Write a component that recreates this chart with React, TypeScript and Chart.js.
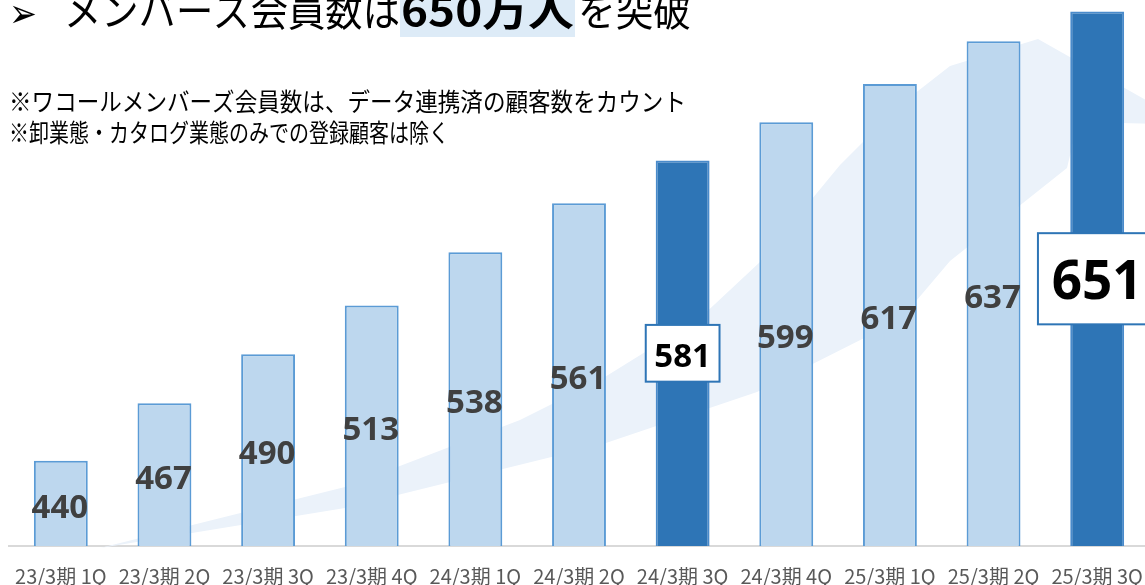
import React, { useEffect, useRef } from "react";
import { Chart, registerables } from "chart.js";

Chart.register(...registerables);

const categories = [
  "23/3期 1Q", "23/3期 2Q", "23/3期 3Q", "23/3期 4Q",
  "24/3期 1Q", "24/3期 2Q", "24/3期 3Q", "24/3期 4Q",
  "25/3期 1Q", "25/3期 2Q", "25/3期 3Q",
];
const members = [440, 467, 490, 513, 538, 561, 581, 599, 617, 637, 651];
const highlighted = [false, false, false, false, false, false, true, false, false, false, true];
const labelSizes = [33, 33, 33, 33, 33, 33, 33, 33, 33, 33, 53];

const titlePrefix = "➢";
const titleMain = "メンバーズ会員数は";
const titleBold = "650万人";
const titleEnd = "を突破";
const noteLines = [
  "※ワコールメンバーズ会員数は、データ連携済の顧客数をカウント",
  "※卸業態・カタログ業態のみでの登録顧客は除く",
];

// decorative swoosh outline (canvas px)
const swooshUpper: [number, number][] = [
  [100, 548], [345, 487], [520, 420], [600, 380], [700, 318], [760, 262], [840, 165], [900, 105], [950, 66], [1038, 39],
];
const swooshLower: [number, number][] = [
  [1160, 108], [1160, 124], [1078, 122], [1067, 168], [950, 261], [900, 320], [757, 392], [600, 445], [345, 508], [100, 548],
];

const CJK = "'Noto Sans CJK JP', 'Noto Sans', sans-serif";
const NUM = "'Open Sans', 'DejaVu Sans', sans-serif";

function fitText(ctx: CanvasRenderingContext2D, text: string, x: number, y: number, width: number) {
  const w = ctx.measureText(text).width;
  ctx.save();
  ctx.translate(x, y);
  ctx.scale(width / w, 1);
  ctx.fillText(text, 0, 0);
  ctx.restore();
}

export default function App() {
  const ref = useRef<HTMLCanvasElement | null>(null);
  useEffect(() => {
    if (!ref.current) return;
    const decor = {
      id: "decor",
      beforeDatasetsDraw(chart: any) {
        const ctx = chart.ctx;
        ctx.save();
        ctx.fillStyle = "#EBF2FA";
        ctx.beginPath();
        swooshUpper.forEach(([x, y], i) => (i === 0 ? ctx.moveTo(x, y) : ctx.lineTo(x, y)));
        swooshLower.forEach(([x, y]) => ctx.lineTo(x, y));
        ctx.closePath();
        ctx.fill();
        ctx.restore();
      },
      afterDraw(chart: any) {
        const ctx = chart.ctx;
        ctx.save();
        // value labels
        const meta = chart.getDatasetMeta(0);
        const base = chart.scales.y.getPixelForValue(chart.scales.y.min);
        meta.data.forEach((bar: any, i: number) => {
          const p = bar.getProps(["x", "y"], true);
          const fs = labelSizes[i];
          const mid = (p.y + base) / 2;
          const text = String(members[i]);
          ctx.font = `bold ${fs}px ${NUM}`;
          ctx.textAlign = "center";
          ctx.textBaseline = "alphabetic";
          const w = ctx.measureText(text).width;
          if (highlighted[i]) {
            const bw = w + fs * 0.52;
            const bh = fs * 1.72;
            ctx.fillStyle = "#FFFFFF";
            ctx.fillRect(p.x - bw / 2, mid - bh / 2, bw, bh);
            ctx.strokeStyle = "#2E75B6";
            ctx.lineWidth = 2;
            ctx.strokeRect(p.x - bw / 2, mid - bh / 2, bw, bh);
            ctx.fillStyle = "#000000";
            ctx.fillText(text, p.x, mid + fs * 0.357 + 1.5);
          } else {
            ctx.fillStyle = "#404040";
            ctx.fillText(text, p.x - 1, mid + fs * 0.357 + 2.5);
          }
        });
        // title
        ctx.textAlign = "left";
        ctx.textBaseline = "alphabetic";
        ctx.fillStyle = "#DDEBF7";
        ctx.fillRect(400, 0, 175, 37);
        ctx.fillStyle = "#000000";
        ctx.font = `bold 40px 'DejaVu Sans', sans-serif`;
        fitText(ctx, titlePrefix, 9, 27, 28);
        ctx.font = `41px ${CJK}`;
        fitText(ctx, titleMain, 64, 26, 336);
        ctx.font = `bold 41px ${CJK}`;
        fitText(ctx, titleBold, 401, 26, 173);
        ctx.font = `41px ${CJK}`;
        fitText(ctx, titleEnd, 578, 26, 113);
        // notes
        ctx.font = `25px ${CJK}`;
        fitText(ctx, noteLines[0], 9, 111, 677);
        fitText(ctx, noteLines[1], 9, 142, 440);
        ctx.restore();
      },
    };
    const chart = new Chart(ref.current, {
      type: "bar",
      data: {
        labels: categories,
        datasets: [
          {
            data: members,
            backgroundColor: highlighted.map((h) => (h ? "#2E75B6" : "#BDD7EE")),
            borderColor: highlighted.map((h) => (h ? "#4A8BCB" : "#5B9BD5")),
            borderWidth: 2,
            categoryPercentage: 1,
            barPercentage: 0.52,
          },
        ],
      },
      options: {
        responsive: false,
        animation: false,
        devicePixelRatio: 1,
        layout: { padding: { left: 9, right: 3, top: 3, bottom: 0 } },
        plugins: { legend: { display: false }, tooltip: { enabled: false } },
        scales: {
          x: {
            grid: { display: false, drawTicks: false },
            border: { display: true, color: "#D9D9D9", width: 2 },
            ticks: {
              color: "#595959",
              font: { family: CJK, size: 20 },
              padding: 18,
              maxRotation: 0,
              autoSkip: false,
            },
            afterFit: (scale: any) => {
              scale.height = 39;
              scale.paddingLeft = 0;
              scale.paddingRight = 0;
            },
          },
          y: { display: false, min: 400, max: 655 },
        },
      },
      plugins: [decor],
    });
    return () => chart.destroy();
  }, []);
  return (
    <div style={{ position: "fixed", left: 0, top: 0, width: 1145, height: 585, overflow: "hidden", background: "#fff" }}>
      <canvas ref={ref} width={1152} height={585} style={{ width: 1152, height: 585, display: "block" }} />
    </div>
  );
}
